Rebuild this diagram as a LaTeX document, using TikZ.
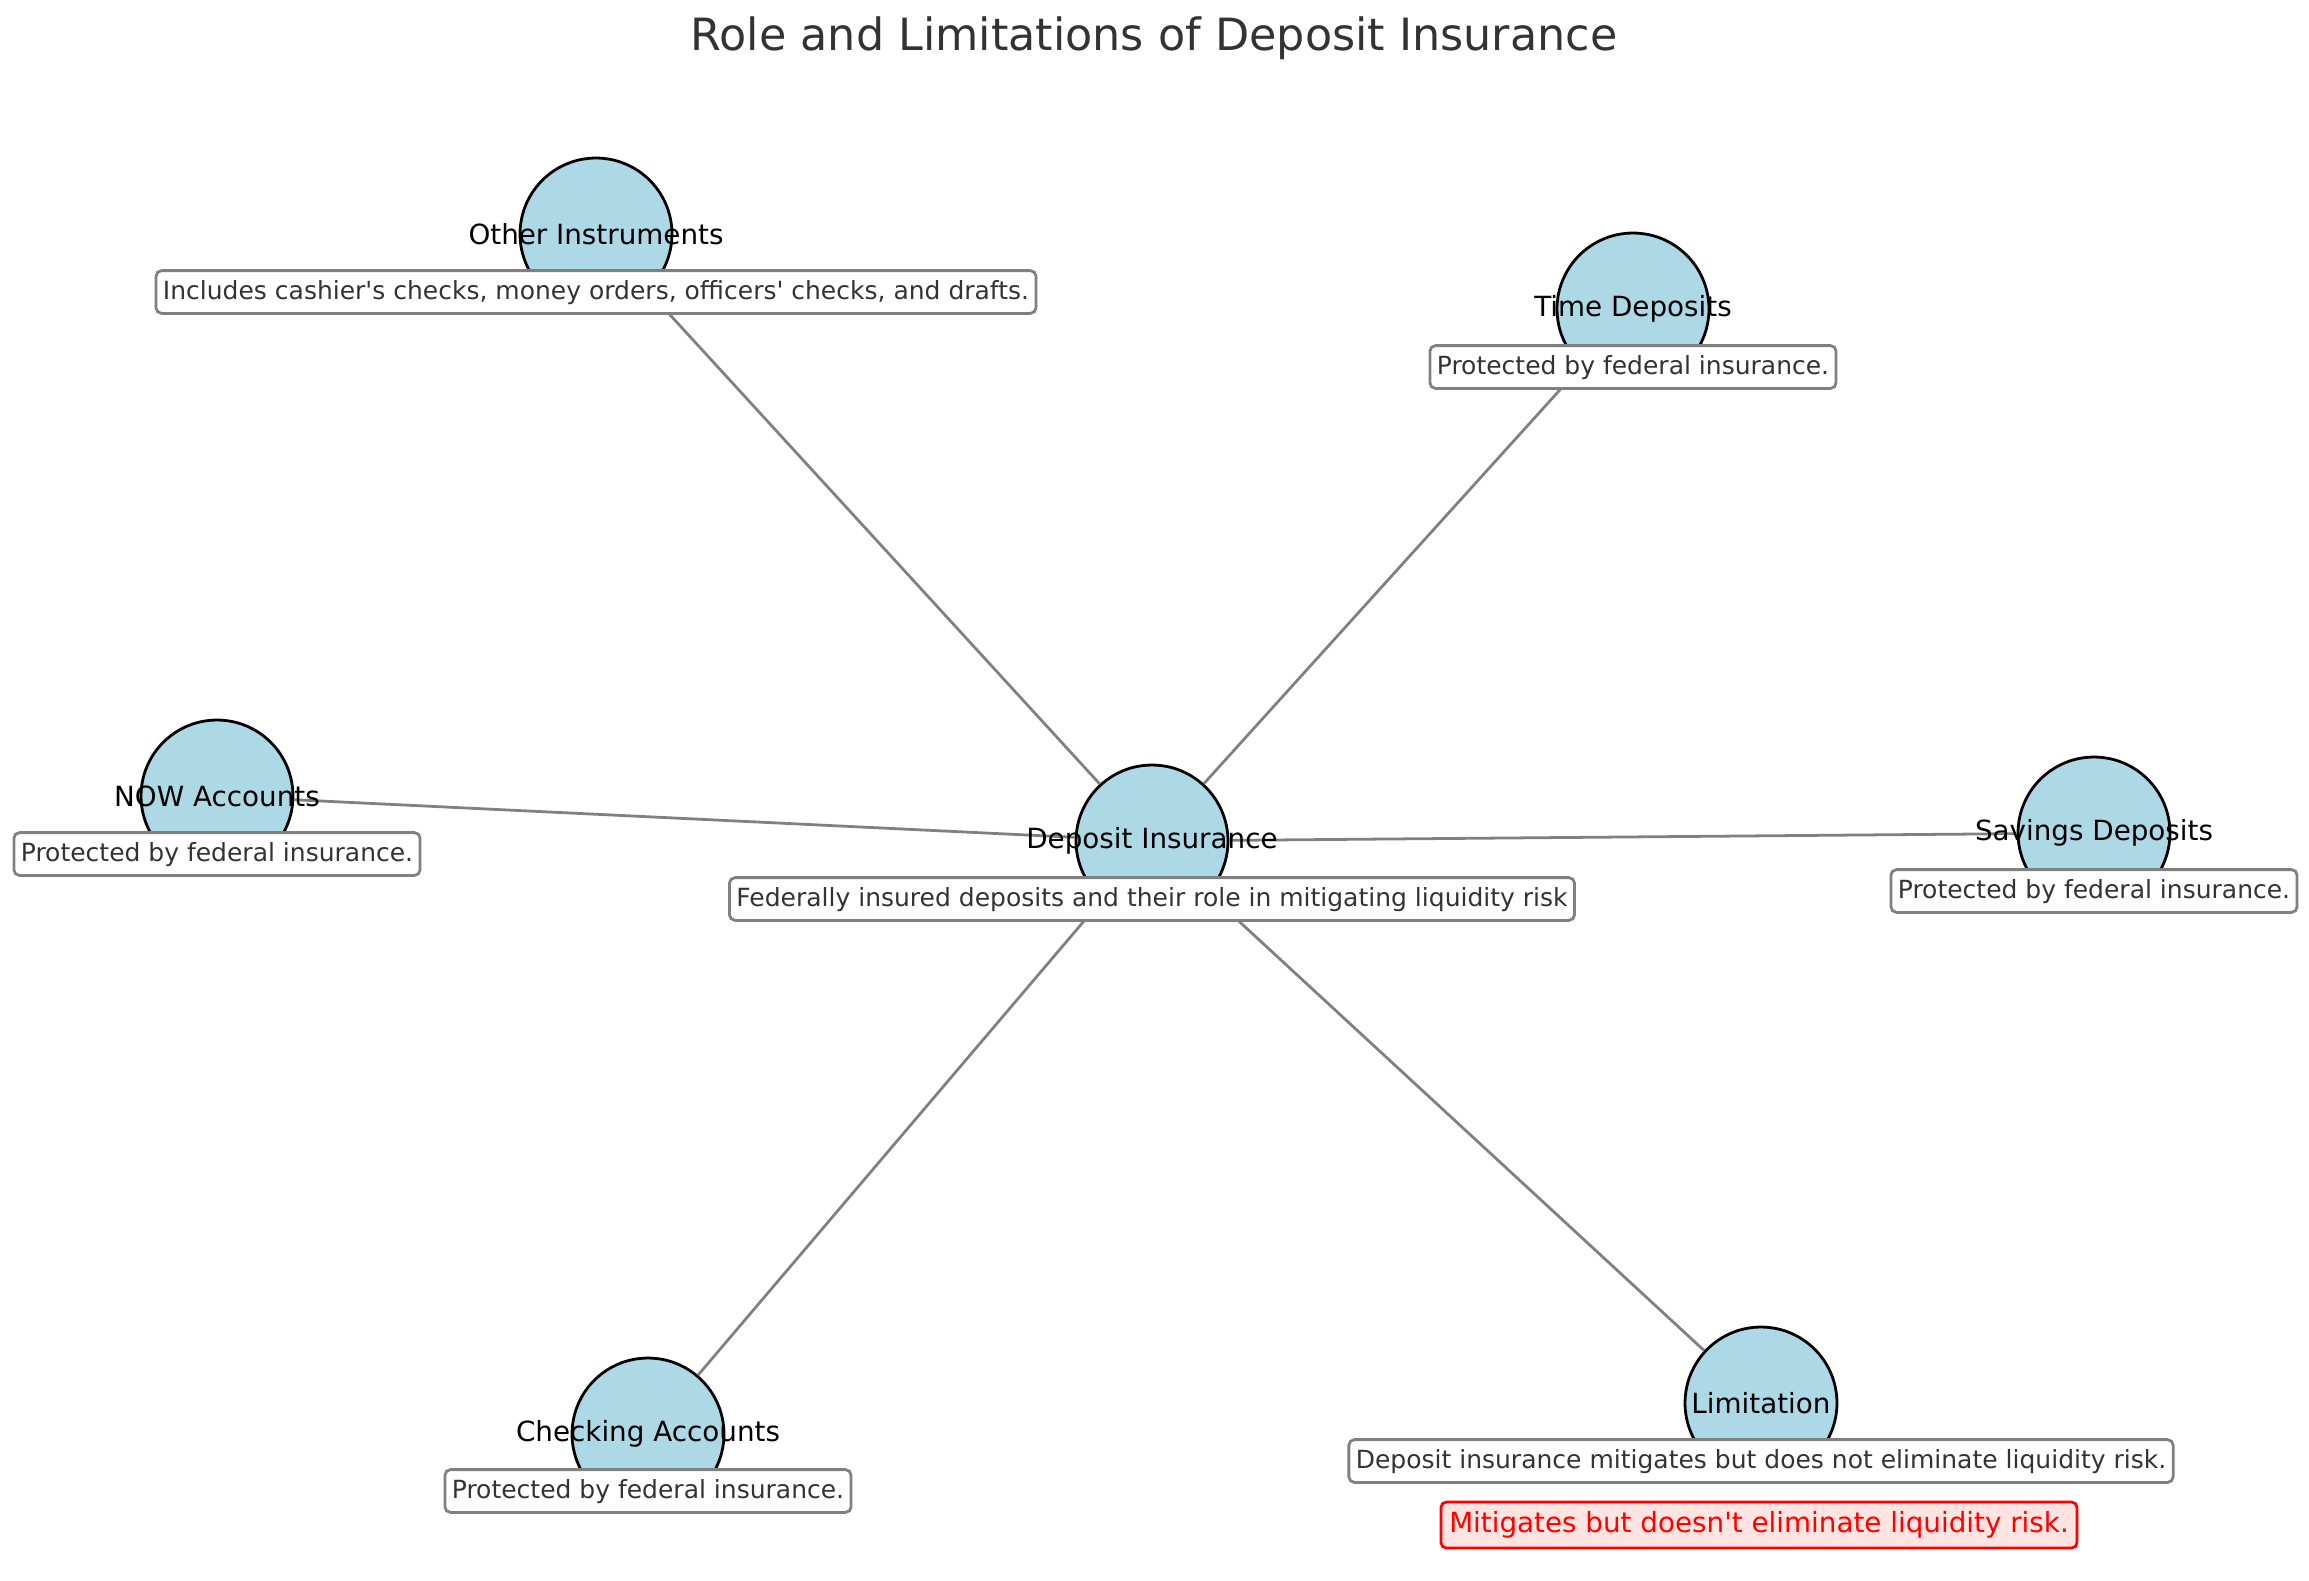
\documentclass[tikz,border=0pt]{standalone}
\usepackage{fontspec}
\setmainfont{DejaVu Sans}
\usetikzlibrary{positioning}
\definecolor{nodeblue}{HTML}{ADD8E6}
\definecolor{textgrey}{HTML}{333333}
\definecolor{warnpink}{HTML}{FFE4E1}

\begin{document}
\begin{tikzpicture}[x=0.36pt, y=-0.36pt,
    bubble/.style={circle, draw=black, line width=1pt, fill=nodeblue, minimum size=54.7pt, inner sep=0pt},
    nodelabel/.style={font=\fontsize{10}{12}\selectfont, text=black, inner sep=0pt},
    descbox/.style={draw=gray, line width=1pt, fill=white, rounded corners=2pt, text=textgrey,
        font=\fontsize{9}{11}\selectfont, inner xsep=2.5pt, inner ysep=2.7pt, text height=0.76em, text depth=0.24em},
    warnbox/.style={draw=red, line width=1pt, fill=warnpink, rounded corners=2pt, text=red,
        font=\fontsize{10}{12}\selectfont, inner xsep=3pt, inner ysep=3.3pt, text height=0.76em, text depth=0.24em},
    link/.style={gray, line width=1pt}]

    \useasboundingbox (0,0) rectangle (2309,1580);

    \node[font=\fontsize{16}{19}\selectfont, text=textgrey] (title) at (1154,38) {Role and Limitations of Deposit Insurance};

    % circles
    \node[bubble] (dep) at (1152,841) {};
    \node[bubble] (oth) at (596,234) {};
    \node[bubble] (tim) at (1633,309) {};
    \node[bubble] (now) at (217,796) {};
    \node[bubble] (sav) at (2094,833) {};
    \node[bubble] (chk) at (648,1434) {};
    \node[bubble] (lim) at (1761,1403) {};

    % links from the centre
    \draw[link] (dep) -- (oth);
    \draw[link] (dep) -- (tim);
    \draw[link] (dep) -- (now);
    \draw[link] (dep) -- (sav);
    \draw[link] (dep) -- (chk);
    \draw[link] (dep) -- (lim);

    % descriptions
    \node[descbox] (depd) at (1152,899) {Federally insured deposits and their role in mitigating liquidity risk};
    \node[descbox] (othd) at (596,292) {Includes cashier\textquotesingle s checks, money orders, officers\textquotesingle\ checks, and drafts.};
    \node[descbox] (timd) at (1633,367) {Protected by federal insurance.};
    \node[descbox] (nowd) at (217,854) {Protected by federal insurance.};
    \node[descbox] (savd) at (2094,891) {Protected by federal insurance.};
    \node[descbox] (chkd) at (648,1491) {Protected by federal insurance.};
    \node[descbox] (limd) at (1761,1461) {Deposit insurance mitigates but does not eliminate liquidity risk.};
    \node[warnbox] (warn) at (1759,1525) {Mitigates but doesn\textquotesingle t eliminate liquidity risk.};

    % labels
    \node[nodelabel] at (dep) {Deposit Insurance};
    \node[nodelabel] at (oth) {Other Instruments};
    \node[nodelabel] at (tim) {Time Deposits};
    \node[nodelabel] at (now) {NOW Accounts};
    \node[nodelabel] at (sav) {Savings Deposits};
    \node[nodelabel] at (chk) {Checking Accounts};
    \node[nodelabel] at (lim) {Limitation};
\end{tikzpicture}
\end{document}
